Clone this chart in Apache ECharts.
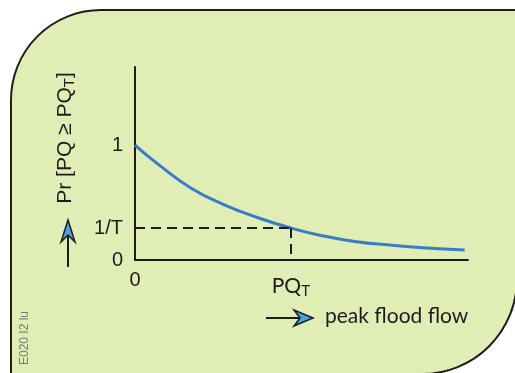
<!DOCTYPE html>
<html>
<head>
<meta charset="utf-8">
<script src="https://cdn.jsdelivr.net/npm/echarts@6/dist/echarts.min.js"></script>
<style>
  html, body { margin: 0; padding: 0; background: #fff; }
  #main { width: 515px; height: 373px; }
</style>
</head>
<body>
<div id="main"></div>
<script>
// exceedance curve
const flowValues = [0, 0.7, 1.7, 2.7, 3.7, 4.68, 5.65, 6.65, 7.65, 8.65, 9.9];
const probValues = [1.0, 0.832, 0.623, 0.478, 0.368, 0.278, 0.209, 0.159, 0.130, 0.107, 0.087];
const returnFlow = 4.68;     // PQ_T
const returnProb = 0.278;    // 1/T
const xTickValues = [0, returnFlow];
const xTickLabels = ["0", "{a|PQ}{b|T}"];
const yTickValues = [0, returnProb, 1];
const yTickLabels = ["0", "1/T", "1"];

const ink = "#1c1c1c";
const tickFont = "'Liberation Sans', Arial, sans-serif";
const labelFont = "Lato, 'Open Sans', sans-serif";

function chartOption() {
  const points = flowValues.map((x, i) => [x, probValues[i]]);
  return {
    animation: false,
    graphic: [
      {
        type: "rect",
        z: -10,
        shape: { x: 11, y: 10, width: 506, height: 364, r: [90, 0, 95, 0] },
        style: { fill: "#e0eeb5", stroke: "#1e1e1e", lineWidth: 2 },
      },
      {
        type: "text",
        x: 65, y: 138, rotation: Math.PI / 2,
        style: {
          text: "Pr [PQ ≥ PQ{s|T}]",
          font: "21px " + tickFont,
          fill: ink, align: "center", verticalAlign: "middle",
          rich: { s: { fontSize: 15, fontFamily: tickFont, fill: ink, padding: [10, 0, 0, 0] } },
        },
      },
      {
        type: "polyline",
        shape: { points: [[68, 267], [68, 232]] },
        style: { stroke: ink, lineWidth: 2 },
      },
      {
        type: "polygon",
        shape: { points: [[68, 220], [75, 242], [68, 235], [61, 242]] },
        style: { fill: "#4aa3dc", stroke: ink, lineWidth: 1.5 },
      },
      {
        type: "polyline",
        shape: { points: [[266, 318], [302, 318]] },
        style: { stroke: ink, lineWidth: 2 },
      },
      {
        type: "polygon",
        shape: { points: [[313, 318], [294, 310], [300, 318], [294, 326]] },
        style: { fill: "#4aa3dc", stroke: ink, lineWidth: 1.5 },
      },
      {
        type: "text",
        x: 325, y: 316,
        style: {
          text: "peak flood flow",
          font: "21px " + labelFont,
          fill: ink, align: "left", verticalAlign: "middle",
        },
      },
      {
        type: "text",
        x: 25, y: 338, rotation: Math.PI / 2,
        style: {
          text: "E020 I2 lu",
          font: "12px " + tickFont,
          fill: "#7a7a7a", align: "center", verticalAlign: "middle",
        },
      },
    ],
    grid: { left: 135, right: 47, top: 67, bottom: 113 },
    xAxis: {
      type: "value",
      min: 0,
      max: 10,
      splitLine: { show: false },
      axisTick: { show: false },
      axisLine: { show: true, lineStyle: { color: ink, width: 2 } },
      axisLabel: {
        customValues: xTickValues,
        margin: 10,
        color: ink,
        fontSize: 20,
        fontFamily: tickFont,
        formatter: (v) => xTickLabels[xTickValues.indexOf(v)],
        rich: {
          a: { fontSize: 21, fontFamily: labelFont, color: ink, padding: [3, 0, 0, 0] },
          b: { fontSize: 15, fontFamily: labelFont, color: ink, padding: [14, 0, 0, 0] },
        },
      },
    },
    yAxis: {
      type: "value",
      min: 0,
      max: 1.68,
      splitLine: { show: false },
      axisTick: { show: false },
      axisLine: { show: true, lineStyle: { color: ink, width: 2 } },
      axisLabel: {
        customValues: yTickValues,
        margin: 12,
        color: ink,
        fontSize: 20,
        fontFamily: tickFont,
        formatter: (v) => yTickLabels[yTickValues.indexOf(v)],
      },
    },
    series: [
      {
        type: "line",
        data: points,
        smooth: true,
        symbol: "none",
        lineStyle: { color: "#3a7cc8", width: 3 },
        markLine: {
          silent: true,
          symbol: "none",
          label: { show: false },
          lineStyle: { color: ink, width: 2, type: [10, 6] },
          data: [
            [{ coord: [0, returnProb] }, { coord: [returnFlow, returnProb] }],
            [{ coord: [returnFlow, returnProb] }, { coord: [returnFlow, 0] }],
          ],
        },
      },
    ],
  };
}

const chart = echarts.init(document.getElementById("main"));
chart.setOption(chartOption());
</script>
</body>
</html>
